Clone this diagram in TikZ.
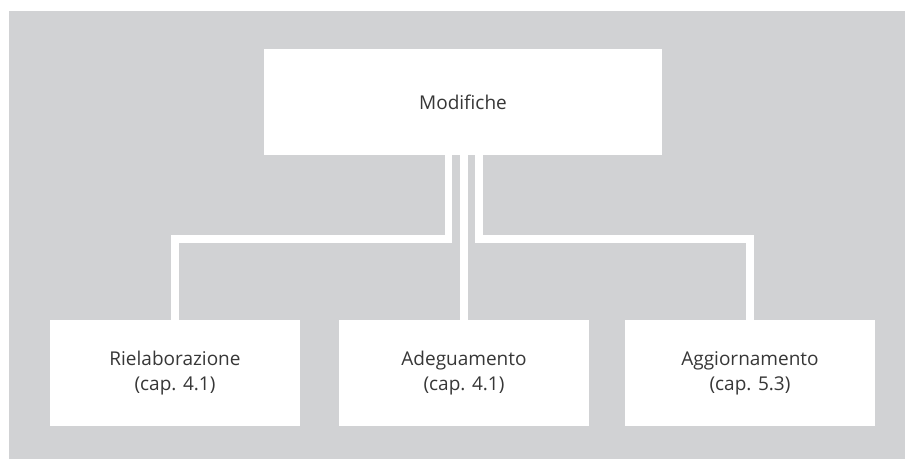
\documentclass[tikz,border=0pt]{standalone}
\usepackage{fontspec}
\setmainfont{Open Sans}
\definecolor{bggray}{RGB}{209,210,212}
\definecolor{txtgray}{RGB}{55,55,55}
\tikzset{
  box/.style={fill=white, draw=none, inner sep=0pt, align=center, text=txtgray,
    font=\fontsize{19}{25}\selectfont},
  topbox/.style={box, minimum width=398pt, minimum height=106pt},
  subbox/.style={box, minimum width=250pt, minimum height=106pt},
  link/.style={white, line width=7.5pt, line join=miter}
}
\begin{document}
\begin{tikzpicture}[x=1pt,y=-1pt]
\useasboundingbox (0,0) rectangle (905,459);
\fill[bggray] (9,11) rectangle (905,459);
\node[topbox] (mod) at (463,102) {Modifiche};
\node[subbox] (rie) at (175,373) {Rielaborazione\\(cap. 4.1)};
\node[subbox] (ade) at (464,373) {Adeguamento\\(cap. 4.1)};
\node[subbox] (agg) at (750,373) {Aggiornamento\\(cap. 5.3)};
\coordinate (jl) at (448.5,239);
\coordinate (jr) at (479,239);
\draw[link] (mod.south -| jl) -- (jl) -| (rie.north);
\draw[link] (mod.south -| ade.north) -- (ade.north);
\draw[link] (mod.south -| jr) -- (jr) -| (agg.north);
\end{tikzpicture}
\end{document}
